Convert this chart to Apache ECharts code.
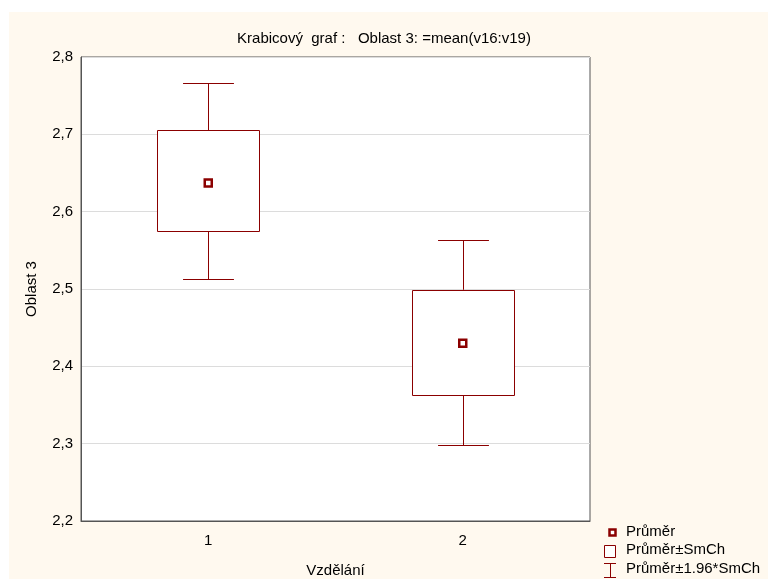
<!DOCTYPE html>
<html>
<head>
<meta charset="utf-8">
<script src="https://cdn.jsdelivr.net/npm/echarts@6/dist/echarts.min.js"></script>
<style>
  html, body { margin: 0; padding: 0; background: #ffffff; }
  #chart { width: 768px; height: 579px; }
</style>
</head>
<body>
<div id="chart"></div>
<script>
// Groups on the x axis
const categories = ['1', '2'];
// Group means
const means = [2.637, 2.430];
// Mean ± standard error (box)
const boxLow = [2.575, 2.363];
const boxHigh = [2.705, 2.499];
// Mean ± 1.96 * standard error (whiskers)
const whiskerLow = [2.513, 2.298];
const whiskerHigh = [2.766, 2.563];
// Y axis range and step
const yMin = 2.2, yMax = 2.8, yStep = 0.1;

const RED = '#8B0000';
const FONT = 'Liberation Sans, Arial, sans-serif';
const FS = 15;

const boxData = categories.map((c, i) => [i, boxLow[i], boxHigh[i]]);
const whiskerData = categories.map((c, i) => [i, whiskerLow[i], whiskerHigh[i], boxLow[i], boxHigh[i]]);
const meanData = categories.map((c, i) => [i, means[i]]);

const crisp = v => Math.round(v) + 0.5;

const chart = echarts.init(document.getElementById('chart'), null, { renderer: 'canvas' });

chart.setOption({
  animation: false,
  textStyle: { fontFamily: FONT },
  title: {
    text: 'Krabicový  graf :   Oblast 3: =mean(v16:v19)',
    left: 'center',
    top: 26,
    textStyle: { fontSize: FS, fontWeight: 'normal', color: '#000', fontFamily: FONT }
  },
  grid: {
    left: 81, top: 57, right: 178, bottom: 58,
    containLabel: false,
    outerBoundsMode: 'none',
    show: true, backgroundColor: '#ffffff', borderColor: '#555', borderWidth: 1
  },
  xAxis: [{
    type: 'category',
    data: categories,
    boundaryGap: true,
    name: 'Vzdělání',
    nameLocation: 'middle',
    nameGap: 42,
    nameTextStyle: { fontSize: FS, color: '#000' },
    axisLine: { lineStyle: { color: '#555' } },
    axisTick: { inside: true, length: 3, alignWithLabel: true, lineStyle: { color: '#333' } },
    axisLabel: { fontSize: FS, color: '#000', margin: 12 },
    splitLine: { show: false }
  }, {
    type: 'category',
    data: categories,
    position: 'top',
    boundaryGap: true,
    axisLine: { show: false },
    axisTick: { inside: true, length: 3, alignWithLabel: true, lineStyle: { color: '#333' } },
    axisLabel: { show: false }
  }],
  yAxis: {
    type: 'value',
    min: yMin, max: yMax, interval: yStep,
    name: 'Oblast 3',
    nameLocation: 'middle',
    nameGap: 42,
    nameTextStyle: { fontSize: FS, color: '#000' },
    axisLine: { show: true, lineStyle: { color: '#555' } },
    axisTick: { show: false },
    axisLabel: {
      fontSize: FS, color: '#000', margin: 8, padding: [2, 0, 0, 0],
      formatter: v => v.toFixed(1).replace('.', ',')
    },
    splitLine: { lineStyle: { color: '#dcdcdc', width: 1 } }
  },
  series: [{
    name: 'Průměr±1.96*SmCh',
    type: 'custom',
    z: 2,
    data: whiskerData,
    renderItem: (params, api) => {
      const i = api.value(0);
      const top = api.coord([i, api.value(2)]);
      const bot = api.coord([i, api.value(1)]);
      const bTop = api.coord([i, api.value(4)]);
      const bBot = api.coord([i, api.value(3)]);
      const w = api.size([1, 0])[0] * 0.2;
      const x = crisp(top[0]);
      const style = { stroke: RED, lineWidth: 1 };
      return {
        type: 'group',
        children: [
          { type: 'line', shape: { x1: x, y1: crisp(top[1]), x2: x, y2: bTop[1] }, style },
          { type: 'line', shape: { x1: x, y1: bBot[1], x2: x, y2: crisp(bot[1]) }, style },
          { type: 'line', shape: { x1: x - w / 2, y1: crisp(top[1]), x2: x + w / 2, y2: crisp(top[1]) }, style },
          { type: 'line', shape: { x1: x - w / 2, y1: crisp(bot[1]), x2: x + w / 2, y2: crisp(bot[1]) }, style }
        ]
      };
    }
  }, {
    name: 'Průměr±SmCh',
    type: 'custom',
    z: 3,
    data: boxData,
    renderItem: (params, api) => {
      const i = api.value(0);
      const top = api.coord([i, api.value(2)]);
      const bot = api.coord([i, api.value(1)]);
      const w = api.size([1, 0])[0] * 0.4;
      const x0 = crisp(top[0] - w / 2);
      const x1 = crisp(top[0] + w / 2);
      const y0 = crisp(top[1]);
      const y1 = crisp(bot[1]);
      return {
        type: 'rect',
        shape: { x: x0, y: y0, width: x1 - x0, height: y1 - y0 },
        style: { fill: '#ffffff', stroke: RED, lineWidth: 1 }
      };
    }
  }, {
    name: 'Průměr',
    type: 'scatter',
    z: 4,
    data: meanData,
    symbol: 'rect',
    symbolSize: 7,
    itemStyle: { color: '#ffffff', borderColor: RED, borderWidth: 2.5, opacity: 1 },
    emphasis: { disabled: true }
  }],
  graphic: [
    // page panel
    { type: 'rect', z: -100, silent: true, shape: { x: 9, y: 12, width: 759, height: 567 }, style: { fill: '#FFF9EF' } },
    // legend: mean
    { type: 'rect', shape: { x: 609.5, y: 529.5, width: 6, height: 6 }, style: { fill: '#fff', stroke: RED, lineWidth: 2.5 } },
    { type: 'text', left: 626, top: 524, style: { text: 'Průměr', font: FS + 'px ' + FONT, fill: '#000' } },
    // legend: box
    { type: 'rect', shape: { x: 604.5, y: 545.5, width: 11, height: 12 }, style: { fill: '#fff', stroke: RED, lineWidth: 1 } },
    { type: 'text', left: 626, top: 542, style: { text: 'Průměr±SmCh', font: FS + 'px ' + FONT, fill: '#000' } },
    // legend: whisker
    { type: 'line', shape: { x1: 604, y1: 563.5, x2: 616, y2: 563.5 }, style: { stroke: RED, lineWidth: 1 } },
    { type: 'line', shape: { x1: 610.5, y1: 563.5, x2: 610.5, y2: 577.5 }, style: { stroke: RED, lineWidth: 1 } },
    { type: 'line', shape: { x1: 604, y1: 577.5, x2: 616, y2: 577.5 }, style: { stroke: RED, lineWidth: 1 } },
    { type: 'text', left: 626, top: 561, style: { text: 'Průměr±1.96*SmCh', font: FS + 'px ' + FONT, fill: '#000' } }
  ]
});
</script>
</body>
</html>
